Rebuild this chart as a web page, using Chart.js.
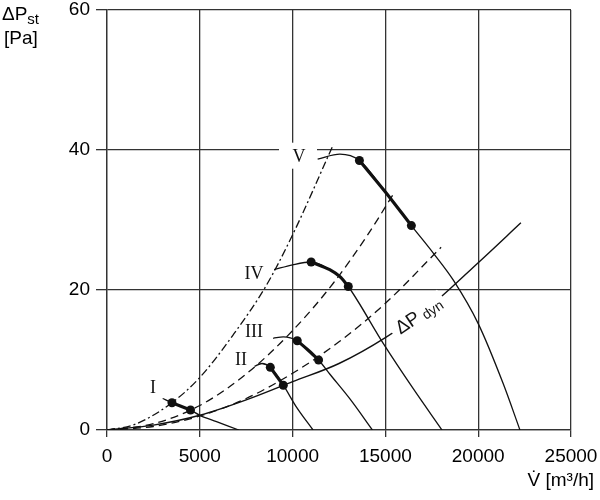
<!DOCTYPE html>
<html lang="en">
<head>
<meta charset="UTF-8" />
<title>Fan curves</title>
<script src="https://cdn.jsdelivr.net/npm/chart.js"></script>
<style>
  body { margin: 0; background: #fff; }
</style>
</head>
<body>
<canvas id="fanChart" width="600" height="500"></canvas>
<script>
  // air volume [m³/h] against static pressure [Pa]
  const xTicks = [0, 5000, 10000, 15000, 20000, 25000];
  const yTicks = [0, 20, 40, 60];
  const curveNames = ["I", "II", "III", "IV", "V"];

  // fan curves, one per speed step
  const fanI = [[3000, 4.5], [3500, 3.9], [4500, 2.85], [5000, 2.1], [5900, 1.2], [7100, 0]];
  const fanII = [[7950, 9.1], [8350, 9.5], [8800, 8.95], [9500, 6.4], [10200, 3.3], [11100, 0]];
  const fanIII = [[8950, 13.1], [9500, 13.3], [10250, 12.75], [10800, 11.5], [11400, 10.0], [12000, 8.0], [13100, 4.4], [14300, 0]];
  const fanIV = [[9000, 22.9], [10000, 23.6], [11000, 24.0], [12000, 22.9], [12550, 21.9], [13000, 20.5], [14900, 12.3], [16500, 5.9], [18050, 0]];
  const fanV = [[11350, 38.7], [12550, 39.4], [13600, 38.5], [15000, 34.0], [16400, 29.2], [17600, 25.2], [18660, 21.4], [20000, 15.2], [21350, 6.6], [22250, 0]];
  const fanCurves = [fanI, fanII, fanIII, fanIV, fanV];

  // working range of each fan (the two dots)
  const opRanges = [[3500, 4500], [8800, 9500], [10250, 11400], [11000, 13000], [13600, 16400]];

  // system curves (dashed) and dynamic pressure
  const system1 = [[0, 0], [1500, 0.8], [3500, 3.9], [5000, 7.5], [6800, 13.6], [8550, 20.5], [9950, 27.6], [12200, 40.8]];
  const system2 = [[0, 0], [2500, 0.9], [5000, 3.5], [7500, 8.0], [10000, 14.2], [12200, 21.0], [14000, 27.7], [15500, 34.0]];
  const system3 = [[0, 0], [2500, 0.5], [5000, 2.0], [7500, 4.5], [10000, 8.1], [12500, 12.6], [15000, 18.1], [18000, 26.1]];
  const dynPressure = [[0, 0], [2500, 0.7], [5000, 2.1], [7500, 4.3], [10000, 6.9], [12500, 9.5], [15000, 13.2], [17500, 17.9], [20000, 23.9], [22300, 29.6]];

  const ink = "#111";
  const gridColor = "#333";
  const sans = "'Liberation Sans', Arial, sans-serif";
  const serif = "'Liberation Serif', 'Times New Roman', serif";

  const toXY = (arr) => arr.map(([x, y]) => ({ x: x, y: y }));

  const datasets = [];

  function addLine(points, width, dash) {
    datasets.push({
      data: toXY(points),
      borderColor: ink,
      borderWidth: width,
      borderDash: dash || [],
      pointRadius: 0,
      cubicInterpolationMode: "monotone",
      fill: false,
    });
  }

  addLine(system1, 1.3, [8, 3, 2, 3]);
  addLine(system2, 1.3, [8, 5]);
  addLine(system3, 1.3, [8, 5]);
  addLine(dynPressure, 1.4);

  const dots = [];
  fanCurves.forEach((curve, i) => {
    const [a, b] = opRanges[i];
    addLine(curve, 1.3);
    addLine(curve.filter((p) => p[0] >= a && p[0] <= b), 3.2);
    dots.push(curve.find((p) => p[0] === a), curve.find((p) => p[0] === b));
  });

  datasets.push({
    data: toXY(dots),
    showLine: false,
    pointRadius: 4.5,
    pointBackgroundColor: ink,
    pointBorderWidth: 0,
  });

  // where the labels go, in data units
  const nameSpots = [[2480, 6.0], [7220, 9.9], [7920, 13.9], [7920, 22.3], [10345, 38.9]];

  const labelPlugin = {
    id: "curveLabels",
    beforeDatasetsDraw(chart) {
      const { ctx, scales: { x, y } } = chart;
      // blank patch behind "V", the grid is cut there
      const px = x.getPixelForValue(nameSpots[4][0]);
      const py = y.getPixelForValue(nameSpots[4][1]);
      ctx.save();
      ctx.fillStyle = "#fff";
      ctx.fillRect(px - 20, py - 15, 38, 26);
      ctx.restore();
    },
    afterDatasetsDraw(chart) {
      const { ctx, scales: { x, y } } = chart;
      ctx.save();

      // roman numerals
      ctx.fillStyle = ink;
      ctx.font = "18px " + serif;
      ctx.textAlign = "center";
      ctx.textBaseline = "middle";
      curveNames.forEach((name, i) => {
        ctx.fillText(name, x.getPixelForValue(nameSpots[i][0]), y.getPixelForValue(nameSpots[i][1]));
      });

      // gap in the dynamic pressure line
      ctx.save();
      ctx.translate(x.getPixelForValue(16686), y.getPixelForValue(16.57));
      ctx.rotate((-39 * Math.PI) / 180);
      ctx.fillStyle = "#fff";
      ctx.fillRect(-31, -6, 62, 12);
      ctx.restore();

      // ΔP dyn label
      ctx.save();
      ctx.translate(x.getPixelForValue(16760), y.getPixelForValue(16.5));
      ctx.rotate((-34 * Math.PI) / 180);
      ctx.fillStyle = ink;
      ctx.textAlign = "left";
      ctx.textBaseline = "alphabetic";
      ctx.font = "19px " + sans;
      const w1 = ctx.measureText("ΔP").width;
      ctx.font = "14px " + sans;
      const w2 = ctx.measureText("dyn").width;
      const start = -(w1 + 4 + w2) / 2;
      ctx.font = "19px " + sans;
      ctx.fillText("ΔP", start, 7);
      ctx.font = "14px " + sans;
      ctx.fillText("dyn", start + w1 + 4, 9);
      ctx.restore();

      ctx.restore();
    },
    afterDraw(chart) {
      const ctx = chart.ctx;
      ctx.save();
      ctx.fillStyle = "#000";
      ctx.textBaseline = "alphabetic";
      // y axis title
      ctx.textAlign = "left";
      ctx.font = "19px " + sans;
      ctx.fillText("ΔP", 2, 20);
      const wp = ctx.measureText("ΔP").width;
      ctx.font = "15px " + sans;
      ctx.fillText("st", 2 + wp, 24);
      ctx.font = "19px " + sans;
      ctx.fillText("[Pa]", 4, 44);
      // x axis title
      ctx.textAlign = "right";
      ctx.fillText("V\u0307 [m³/h]", 594, 486);
      ctx.restore();
    },
  };

  const tickFont = { family: sans, size: 19, lineHeight: 1 };

  // keep the plot box where the reference has it, labels may overhang
  function noOverhang(s) {
    s.paddingTop = 0;
    s.paddingBottom = 0;
    s.paddingLeft = 0;
    s.paddingRight = 0;
  }

  new Chart(document.getElementById("fanChart"), {
    type: "line",
    data: { datasets: datasets },
    options: {
      responsive: false,
      animation: false,
      layout: { padding: { top: 10, right: 29, left: 0, bottom: 0 } },
      plugins: {
        legend: { display: false },
        tooltip: { enabled: false },
      },
      scales: {
        x: {
          type: "linear",
          min: 0,
          max: 25000,
          afterBuildTicks: (s) => { s.ticks = xTicks.map((v) => ({ value: v })); },
          afterFit: (s) => { s.height = 70; noOverhang(s); },
          grid: { color: gridColor, lineWidth: 1.3, tickLength: 7 },
          border: { color: gridColor, width: 1.3 },
          ticks: { color: "#000", font: tickFont, padding: 10, maxRotation: 0, autoSkip: false, callback: (v) => String(v) },
        },
        y: {
          type: "linear",
          min: 0,
          max: 60,
          afterBuildTicks: (s) => { s.ticks = yTicks.map((v) => ({ value: v })); },
          afterFit: (s) => { s.width = 107; noOverhang(s); },
          grid: { color: gridColor, lineWidth: 1.3, tickLength: 11 },
          border: { color: gridColor, width: 1.3 },
          ticks: { color: "#000", font: tickFont, padding: 6, autoSkip: false, callback: (v) => String(v) },
        },
      },
    },
    plugins: [labelPlugin],
  });
</script>
</body>
</html>
